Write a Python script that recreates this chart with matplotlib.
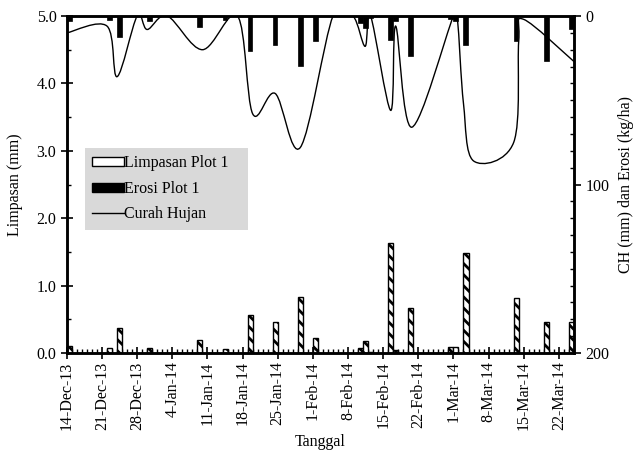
import matplotlib
matplotlib.use('Agg')
import matplotlib.pyplot as plt
import matplotlib.dates as mdates
from matplotlib.path import Path
from matplotlib.patches import PathPatch, Patch
from matplotlib.lines import Line2D
from matplotlib.ticker import MultipleLocator, FixedLocator
import numpy as np
import pandas as pd

plt.rcParams['font.family'] = ['Liberation Serif', 'DejaVu Serif']
plt.rcParams['font.size'] = 11.5
plt.rcParams['hatch.linewidth'] = 2.0

# limpasan (mm) dan erosi (kg/ha) per kejadian
tanggal = ['2013-12-14', '2013-12-22', '2013-12-24', '2013-12-30', '2014-01-09',
           '2014-01-14', '2014-01-19', '2014-01-24', '2014-01-29', '2014-02-01',
           '2014-02-10', '2014-02-11', '2014-02-12', '2014-02-16', '2014-02-17',
           '2014-02-20', '2014-02-28', '2014-03-01', '2014-03-03', '2014-03-13',
           '2014-03-19', '2014-03-24']
limpasan = [0.10, 0.08, 0.37, 0.07, 0.19, 0.06, 0.57, 0.46, 0.83, 0.22,
            0.07, 0.18, 0.02, 1.63, 0.05, 0.67, 0.09, 0.09, 1.49, 0.81, 0.46, 0.46]
erosi = [3, 2.5, 12.5, 3, 6.5, 2.5, 20.5, 17, 29.5, 15,
         4, 7, 1, 14.5, 3, 24, 2, 3, 17, 15, 26.5, 8]

# curah hujan (mm), titik garis halus (hari sejak 14-Dec-13)
hujan_hari = [0, 8, 10, 14, 16, 20, 27, 34, 37, 41.5, 46.5, 53, 57, 59.4, 60.5,
              64.5, 65.5, 68.7, 77, 77.8, 79, 81, 89, 90, 91, 101]
hujan_mm = [10, 6, 36, 0, 8, 0, 20, 0, 58, 46, 78, 0, 0, 18, 0,
            56, 6, 66, 0, 2, 52, 86, 75, 15, 2, 27]

mulai = pd.Timestamp('2013-12-14')
selesai = pd.Timestamp('2014-03-25')

fig = plt.figure(figsize=(6.37, 4.51), dpi=100)
ax = fig.add_axes([0.105, 0.2173, 0.796, 0.7472])
ax2 = ax.twinx()

x = mdates.date2num(pd.to_datetime(tanggal))
ax.bar(x, limpasan, width=1.0, align='edge', color='white', edgecolor='black',
       linewidth=1.0, hatch='\\\\\\', zorder=2)
ax2.bar(x, erosi, width=0.95, align='edge', color='black', edgecolor='black', linewidth=0.5)

# garis halus (bezier ala excel)
hx = mdates.date2num(mulai) + np.array(hujan_hari, dtype=float)
hy = np.array(hujan_mm, dtype=float)
P = np.column_stack([hx, hy])
verts = [P[0]]
codes = [Path.MOVETO]
n = len(P)
for i in range(n - 1):
    p0 = P[max(i - 1, 0)]
    p1 = P[i]
    p2 = P[i + 1]
    p3 = P[min(i + 2, n - 1)]
    verts += [p1 + (p2 - p0) / 6, p2 - (p3 - p1) / 6, p2]
    codes += [Path.CURVE4] * 3
ax2.add_patch(PathPatch(Path(verts, codes), facecolor='none', edgecolor='black', linewidth=1.0))

ax.set_xlim(mdates.date2num(mulai), mdates.date2num(selesai))
ax.set_ylim(0, 5)
ax2.set_ylim(200, 0)

ax.yaxis.set_major_locator(MultipleLocator(1))
ax.yaxis.set_minor_locator(MultipleLocator(0.5))
ax.yaxis.set_major_formatter(plt.FormatStrFormatter('%.1f'))
ax2.yaxis.set_major_locator(MultipleLocator(100))
ax2.yaxis.set_minor_locator(MultipleLocator(10))

minggu = mdates.date2num(pd.date_range('2013-12-14', '2014-03-22', freq='7D'))
ax.xaxis.set_major_locator(FixedLocator(minggu))
ax.xaxis.set_minor_locator(mdates.DayLocator())
ax.xaxis.set_major_formatter(mdates.DateFormatter('%-d-%b-%y'))
plt.setp(ax.get_xticklabels(), rotation=90)

ax.tick_params(axis='both', which='major', direction='inout', length=8, width=1.2, labelsize=11.5)
ax.tick_params(axis='both', which='minor', direction='in', length=3, width=1.0)
ax.tick_params(axis='x', which='major', pad=2)
ax2.tick_params(axis='y', which='major', direction='out', length=5, width=1.2, labelsize=11.5)
ax2.tick_params(axis='y', which='minor', direction='in', length=3, width=1.0)

for a in (ax, ax2):
    for s in a.spines.values():
        s.set_linewidth(1.8)

ax.set_ylabel('Limpasan (mm)', fontsize=11.5, labelpad=10)
ax.set_xlabel('Tanggal', fontsize=11.5, labelpad=3)
fig.text(0.982, 0.59, 'CH (mm) dan Erosi (kg/ha)', rotation=90, ha='center', va='center', fontsize=11.5)

handles = [Patch(facecolor='white', edgecolor='black', linewidth=1.0),
           Patch(facecolor='black', edgecolor='black'),
           Line2D([], [], color='black', linewidth=1.0)]
leg = ax2.legend(handles, ['Limpasan Plot 1', 'Erosi Plot 1', 'Curah Hujan'],
                 loc='upper left', bbox_to_anchor=(0.0355, 0.408, 0.3215, 0.2),
                 mode='expand', borderaxespad=0,
                 frameon=True, fancybox=False, facecolor='#d9d9d9', edgecolor='none',
                 framealpha=1, fontsize=11.5, handlelength=2.0, handleheight=0.5,
                 handletextpad=0.0, labelspacing=0.6, borderpad=0.45)

fig.savefig('out.png', dpi=100)
